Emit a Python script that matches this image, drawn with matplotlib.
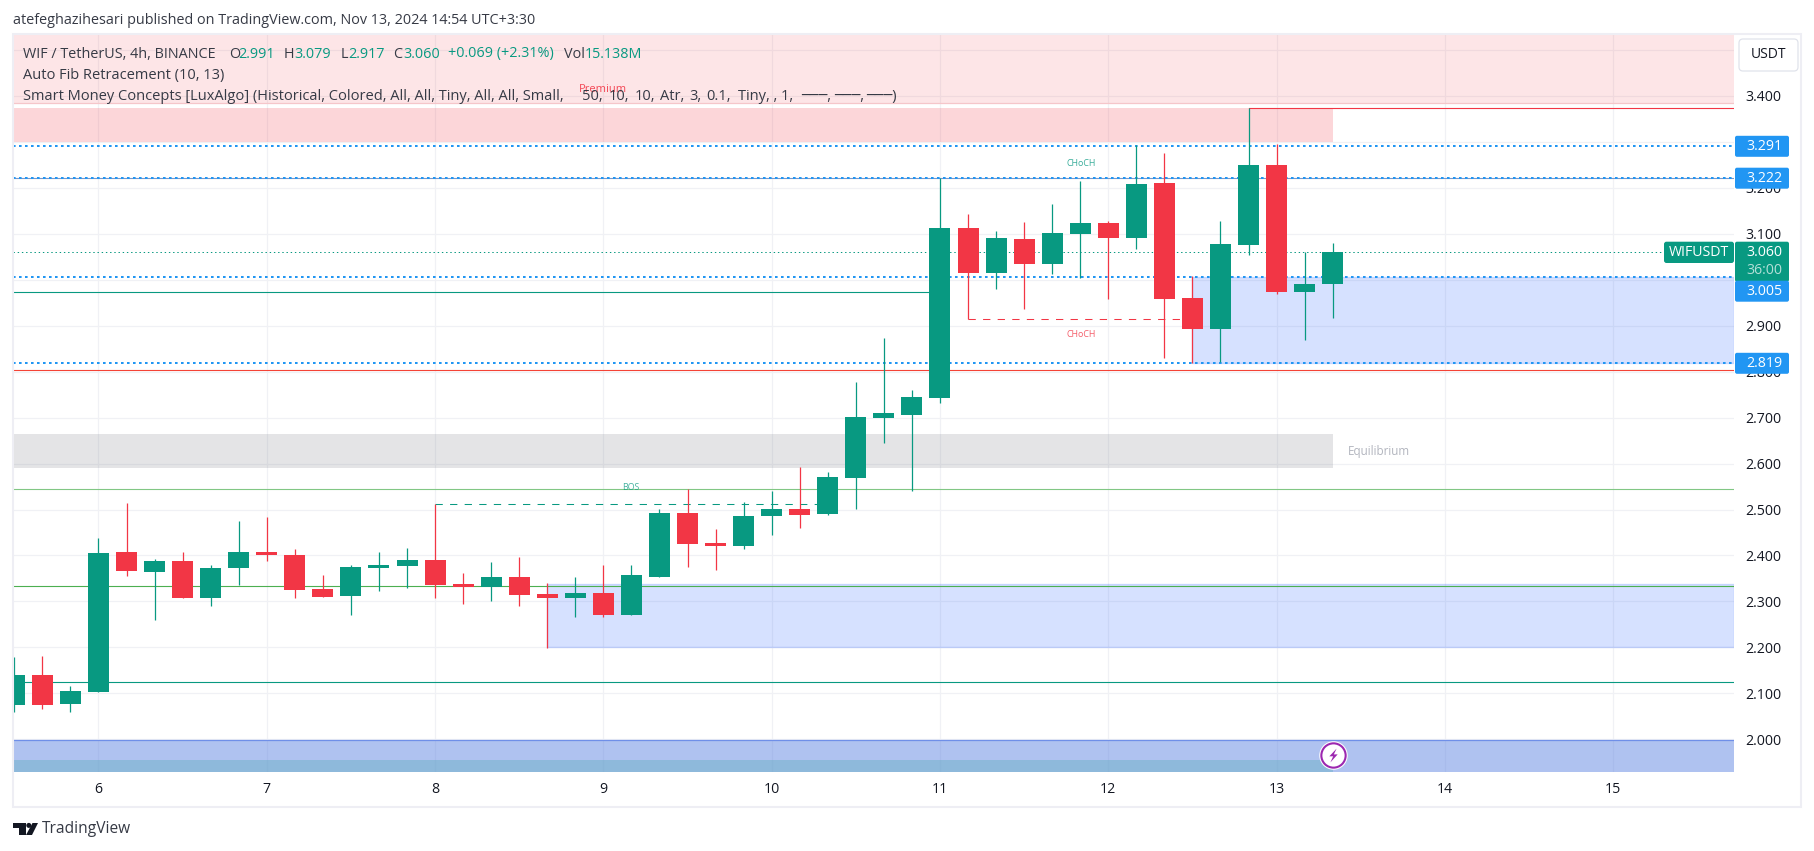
#!/usr/bin/env python3

import numpy as np
import matplotlib
matplotlib.use("Agg")
import matplotlib.pyplot as plt
from matplotlib.patches import Rectangle, FancyBboxPatch, Polygon, Circle
from matplotlib.path import Path

plt.rcParams['font.family'] = ['Open Sans', 'DejaVu Sans']

# 4h candles, bar index is counted from the start of day 6
bar_index = np.arange(-3, 45)
opens = [2.074, 2.140, 2.076, 2.103, 2.407, 2.364, 2.388, 2.307, 2.372, 2.407, 2.401, 2.327,
         2.311, 2.372, 2.377, 2.390, 2.338, 2.331, 2.353, 2.316, 2.307, 2.318, 2.270, 2.353,
         2.492, 2.427, 2.420, 2.486, 2.501, 2.490, 2.569, 2.699, 2.706, 2.743, 3.113, 3.015,
         3.089, 3.034, 3.100, 3.124, 3.091, 3.211, 2.960, 2.893, 3.076, 3.250, 2.973, 2.991]
closes = [2.140, 2.074, 2.105, 2.405, 2.366, 2.388, 2.307, 2.372, 2.407, 2.401, 2.325, 2.309,
          2.375, 2.379, 2.390, 2.335, 2.331, 2.353, 2.314, 2.307, 2.318, 2.270, 2.357, 2.492,
          2.425, 2.420, 2.486, 2.501, 2.488, 2.570, 2.701, 2.710, 2.745, 3.113, 3.015, 3.091,
          3.034, 3.102, 3.124, 3.091, 3.208, 2.958, 2.893, 3.078, 3.250, 2.973, 2.991, 3.060]
highs = [2.179, 2.181, 2.116, 2.438, 2.514, 2.392, 2.407, 2.379, 2.475, 2.483, 2.414, 2.357,
         2.379, 2.407, 2.416, 2.512, 2.362, 2.385, 2.396, 2.340, 2.353, 2.379, 2.379, 2.501,
         2.544, 2.457, 2.516, 2.540, 2.592, 2.581, 2.778, 2.873, 2.760, 3.221, 3.143, 3.106,
         3.126, 3.165, 3.215, 3.128, 3.293, 3.276, 3.008, 3.128, 3.373, 3.295, 3.060, 3.079]
lows = [2.059, 2.066, 2.059, 2.103, 2.355, 2.259, 2.307, 2.290, 2.335, 2.388, 2.307, 2.309,
        2.270, 2.322, 2.329, 2.307, 2.294, 2.301, 2.290, 2.199, 2.266, 2.266, 2.270, 2.353,
        2.375, 2.368, 2.414, 2.444, 2.459, 2.488, 2.501, 2.645, 2.540, 2.732, 2.914, 2.980,
        2.936, 3.013, 3.003, 2.958, 3.067, 2.830, 2.818, 2.821, 3.054, 2.969, 2.869, 2.917]

y_ticks = [2.0, 2.1, 2.2, 2.3, 2.4, 2.5, 2.6, 2.7, 2.8, 2.9, 3.0, 3.1, 3.2, 3.3, 3.4, 3.5]
y_tick_labels = ['2.000', '2.100', '2.200', '2.300', '2.400', '2.500', '2.600', '2.700', '2.800',
                 '2.900', '', '3.100', '3.200', '', '3.400', '']
day_ticks = [6, 7, 8, 9, 10, 11, 12, 13, 14, 15]

# price levels drawn as lines
fib_levels = [3.291, 3.222, 3.005, 2.819]
last_price = 3.060
swing_high = 3.373
red_level = 2.803
teal_level = 2.973
light_green_level = 2.544
green_level = 2.333
low_teal_level = 2.124
bos_level = 2.511
choch_level = 2.914

# zones as (low, high)
premium_top = (3.384, 3.56)
premium_box = (3.300, 3.373)
equilibrium = (2.590, 2.664)
ob_upper = (2.819, 3.005)
ob_lower = (2.200, 2.339)
discount_blue = (1.90, 1.998)
discount_teal = (1.90, 1.954)

GREEN = '#089981'
RED = '#f23645'
BLUE = '#2196f3'
TEXT = '#131722'
LEGEND = '#363a45'

W, H = 1814, 851
LEFT, RIGHT, TOP, BOTTOM = 13, 1734, 34, 772

fig = plt.figure(figsize=(W/100, H/100), dpi=100, facecolor='white')
ax = fig.add_axes([LEFT/W, (H-BOTTOM)/H, (RIGHT-LEFT)/W, (BOTTOM-TOP)/H])
x_min, x_max = 5.492, 15.718
ax.set_xlim(x_min, x_max)
ax.set_ylim(1.9288, 3.5349)
for s in ax.spines.values():
    s.set_visible(False)

ax.yaxis.tick_right()
ax.set_yticks(y_ticks, y_tick_labels)
ax.set_xticks(day_ticks, [str(d) for d in day_ticks])
ax.tick_params(axis='y', length=0, pad=8.2, labelsize=10.2, labelcolor=TEXT)
ax.tick_params(axis='x', length=0, pad=7.4, labelsize=10.2, labelcolor=TEXT)
ax.grid(True, color='#f0f1f5', lw=0.9, zorder=0)
ax.set_axisbelow(True)

x_bars = 6 + bar_index/6.0
last_x = x_bars[-1]


def zone(x0, x1, band, fc, alpha, ec='none'):
    ax.add_patch(Rectangle((x0, band[0]), x1-x0, band[1]-band[0], fc=fc, alpha=alpha, ec=ec,
                           lw=1, zorder=1))


zone(x_min, x_max, premium_top, RED, 0.125)
zone(x_min, last_x, premium_box, RED, 0.20)
zone(x_min, last_x, equilibrium, '#787b86', 0.20)
zone(x_bars[42], x_max, ob_upper, '#2962ff', 0.19, ec='#2962ff')
zone(x_bars[19], x_max, ob_lower, '#2962ff', 0.19, ec='#2962ff')
zone(x_min, x_max, discount_blue, '#6187e3', 0.5)
zone(x_min, last_x, discount_teal, '#6eb1c7', 0.5)
ax.plot([x_min, x_max], [discount_blue[1]]*2, color='#6f8fe8', lw=0.9, zorder=1.5)
ax.plot([x_min, x_max], [premium_top[0]]*2, color='#f5c6ca', lw=0.9, zorder=1.5)

# level lines
thin = 0.8
ax.axhline(red_level, color='#f44336', lw=thin, zorder=2)
ax.axhline(light_green_level, color='#81c784', lw=thin, zorder=2)
ax.axhline(green_level, color='#4caf50', lw=thin, zorder=2)
ax.axhline(low_teal_level, color=GREEN, lw=thin, zorder=2)
ax.axhline(3.222, color='#7b96c8', lw=thin, zorder=2)
ax.plot([x_min, x_bars[33]], [teal_level]*2, color=GREEN, lw=thin, zorder=2)
ax.plot([x_bars[44], x_max], [swing_high]*2, color=RED, lw=thin, zorder=2)
for lv in fib_levels:
    ax.axhline(lv, color=BLUE, lw=1.44, ls=(0, (1.3, 1.7)), zorder=2.2)
ax.axhline(last_price, color=GREEN, lw=0.72, ls=(0, (1.4, 2.8)), zorder=2.2)

# structure breaks
ax.plot([x_bars[15], x_bars[29]], [bos_level]*2, color=GREEN, lw=0.75, ls=(0, (7, 7)), zorder=2.3)
ax.plot([x_bars[34], x_bars[42]], [choch_level]*2, color=RED, lw=0.75, ls=(0, (7, 7)), zorder=2.3)

# candles
opens_a, closes_a = np.array(opens), np.array(closes)
colors = [GREEN if c >= o else RED for o, c in zip(opens, closes)]
ax.vlines(x_bars, lows, highs, colors=colors, lw=0.9, zorder=3)
ax.bar(x_bars, np.abs(closes_a-opens_a), bottom=np.minimum(opens_a, closes_a), width=21/168.3,
       color=colors, lw=0, zorder=3.5)

ax.text(9.165, 2.5475, 'BOS', color=GREEN, alpha=0.75, fontsize=6.4, ha='center', va='center', zorder=4)
ax.text(11.84, 3.254, 'CHoCH', color=GREEN, alpha=0.8, fontsize=6.4, ha='center', va='center', zorder=4)
ax.text(11.84, 2.882, 'CHoCH', color=RED, alpha=0.8, fontsize=6.4, ha='center', va='center', zorder=4)
ax.text(8.998, 3.415, 'Premium', color=RED, alpha=0.9, fontsize=8, ha='center', va='center', zorder=4)
ax.text(13.61, 2.627, 'Equilibrium', color='#b2b5be', fontsize=8.4, ha='center', va='center', zorder=4)

# lightning badge
icon_y = 1.9658
bolt = Path([(0.45, 1), (-0.6, -0.12), (-0.05, -0.12), (-0.45, -1), (0.6, 0.16), (0.05, 0.16), (0.45, 1)])
ax.plot([last_x], [icon_y], 'o', ms=20.5, mfc='white', mec='none', zorder=5, clip_on=False)
ax.plot([last_x], [icon_y], 'o', ms=17.5, mfc='white', mec='#9c27b0', mew=1.5, zorder=5.1, clip_on=False)
ax.plot([last_x], [icon_y], marker=bolt, ms=10, mfc='#9c27b0', mec='none', zorder=5.2, clip_on=False)

# overlay in pixel coordinates for the page chrome
ov = fig.add_axes([0, 0, 1, 1], zorder=10)
ov.set_xlim(0, W)
ov.set_ylim(H, 0)
ov.axis('off')
ov.patch.set_alpha(0)

ov.add_patch(Rectangle((13, 33.5), 1788, 773, fc='none', ec='#eeeef4', lw=1.5))

ov.text(13, 20, 'atefeghazihesari published on TradingView.com, Nov 13, 2024 14:54 UTC+3:30',
        fontsize=10.4, color=LEGEND, va='center')

title_parts = [(23, 'WIF / TetherUS, 4h, BINANCE', LEGEND), (229, 'O', LEGEND), (238, '2.991', GREEN),
               (284, 'H', LEGEND), (294, '3.079', GREEN), (340.5, 'L', LEGEND), (348, '2.917', GREEN),
               (393.5, 'C', LEGEND), (403, '3.060', GREEN), (448, '+0.069 (+2.31%)', GREEN),
               (564, 'Vol', LEGEND), (585, '15.138M', GREEN)]
for tx, s, c in title_parts:
    ov.text(tx, 54, s, fontsize=10.4, color=c, va='center')
ov.text(23, 75.3, 'Auto Fib Retracement (10, 13)', fontsize=10.5, color=LEGEND, va='center')

smc_parts = [(23, 'Smart Money Concepts [LuxAlgo] (Historical, Colored, All, All, Tiny, All, All, Small,'),
             (582, '50,'), (609, '10,'), (635, '10,'), (660, 'Atr,'), (689, '3,'), (706, '0.1,'),
             (738, 'Tiny, , 1,'), (801, '───,'), (834, '───,'), (866, '───)')]
for tx, s in smc_parts:
    ov.text(tx, 96.7, s, fontsize=10.5, color=LEGEND, va='center')

# USDT button
ov.add_patch(FancyBboxPatch((1739, 39), 59, 32, boxstyle='round,pad=0,rounding_size=4', fc='white',
                            ec='#e0e3eb', lw=0.9))
ov.text(1768.5, 55, 'USDT', fontsize=10, color=TEXT, ha='center', va='center')

# price labels
ov.add_patch(FancyBboxPatch((1664, 241.7), 70, 21.3, boxstyle='round,pad=0,rounding_size=2.5', fc=GREEN, ec='none'))
ov.text(1699, 252.5, 'WIFUSDT', fontsize=10.2, color='white', ha='center', va='center')
ov.add_patch(FancyBboxPatch((1735, 241.7), 54, 40, boxstyle='round,pad=0,rounding_size=2', fc=GREEN, ec='none'))
ov.text(1764, 252.5, '3.060', fontsize=10.2, color='white', ha='center', va='center')
ov.text(1764, 271, '36:00', fontsize=10.2, color='#b5e0d8', ha='center', va='center')

fib_label_y = [146.3, 178.2, 291.2, 363.3]
for lv, ly in zip(fib_levels, fib_label_y):
    ov.add_patch(FancyBboxPatch((1735, ly-10.5), 54, 21, boxstyle='round,pad=0,rounding_size=2', fc=BLUE, ec='none'))
    ov.text(1764, ly+0.3, '%.3f' % lv, fontsize=10.2, color='white', ha='center', va='center')

# TradingView logo
ov.add_patch(Polygon([(13, 823), (25.5, 823), (25.5, 835), (19, 835), (19, 828.2), (13, 828.2)], fc=TEXT, ec='none'))
ov.add_patch(Circle((28.8, 825.4), 2.5, fc=TEXT, ec='none'))
ov.add_patch(Polygon([(32.5, 823), (38, 823), (32, 835), (26, 835)], fc=TEXT, ec='none'))
ov.text(42, 829, 'TradingView', fontsize=11.2, color=LEGEND, va='center')

plt.savefig('out.png', dpi=100)
